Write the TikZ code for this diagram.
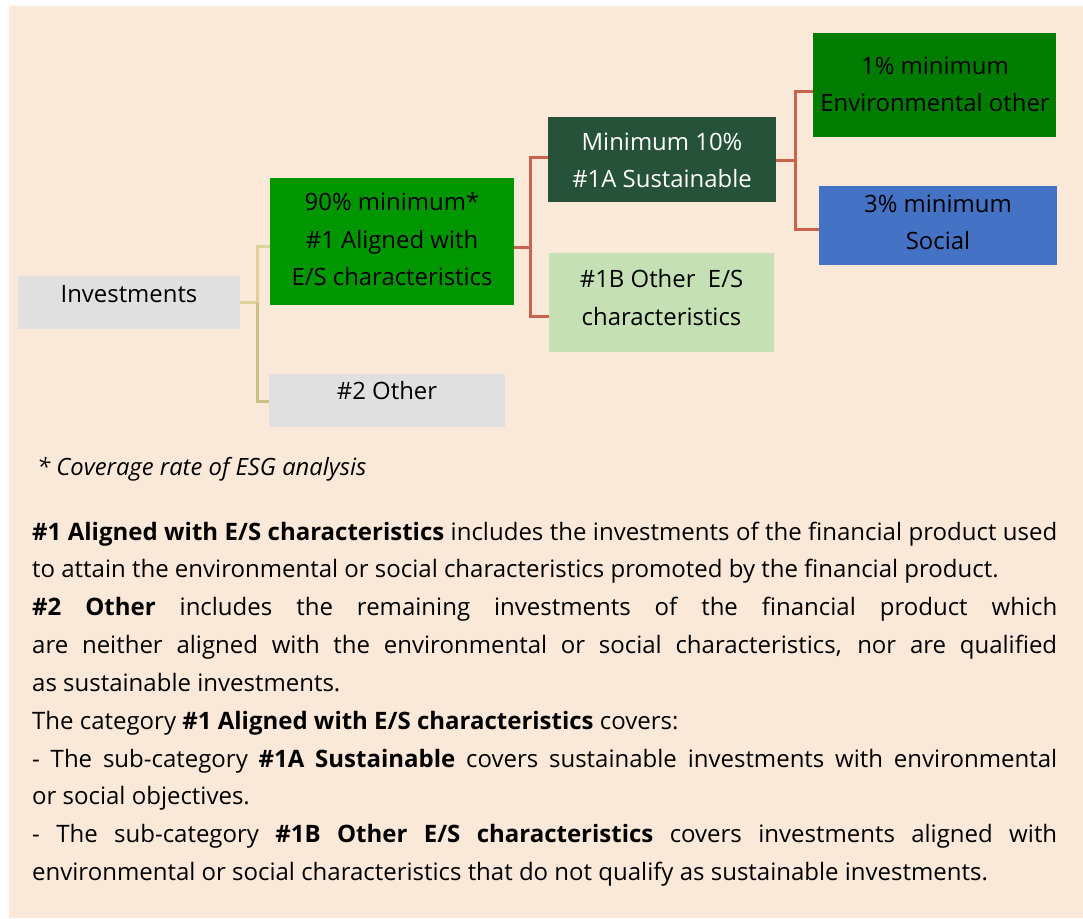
\documentclass[tikz,border=0pt]{standalone}
\usepackage{fontspec}
\setmainfont{Open Sans}
\usetikzlibrary{calc}
\definecolor{bg}{HTML}{FAE8D8}
\definecolor{greybox}{HTML}{E0E0E0}
\definecolor{green1}{HTML}{009600}
\definecolor{darkgreen}{HTML}{27523A}
\definecolor{envgreen}{HTML}{007D00}
\definecolor{socblue}{HTML}{4472C4}
\definecolor{lightgreen}{HTML}{C5E0B4}
\definecolor{tanhi}{HTML}{DDD398}
\definecolor{tanlo}{HTML}{CDC085}
\definecolor{redline}{HTML}{C9634B}
\begin{document}
\begin{tikzpicture}[x=1pt,y=-1pt,
  boxst/.style={rectangle, draw=none, inner sep=0pt, outer sep=0pt},
  lbl/.style={align=center, inner sep=0pt, font=\fontsize{23.9}{37.5}\selectfont},
  conn/.style={line width=3pt}]
\useasboundingbox (0,0) rectangle (1083,918);
\fill[bg] (9,6) rectangle (1083,918);
% boxes
\node[boxst, fill=greybox, minimum width=222pt, minimum height=53pt] (inv) at (129,302.5) {};
\node[boxst, fill=green1, minimum width=244pt, minimum height=127pt] (a1) at (392,241.5) {};
\node[boxst, fill=greybox, minimum width=236pt, minimum height=53pt] (o2) at (387,400.5) {};
\node[boxst, fill=darkgreen, minimum width=228pt, minimum height=85pt] (s1a) at (662,159.5) {};
\node[boxst, fill=lightgreen, minimum width=225pt, minimum height=99pt] (s1b) at (661.5,302.5) {};
\node[boxst, fill=envgreen, minimum width=243pt, minimum height=104pt] (env) at (934.5,85) {};
\node[boxst, fill=socblue, minimum width=238pt, minimum height=79pt] (soc) at (938,225.5) {};
% labels
\node[lbl] (invt) at (129,294) {Investments};
\node[lbl] (a1t) at (392,239.5) {90\% minimum*\\\#1 Aligned with\\E/S characteristics};
\node[lbl] (o2t) at (387,391) {\#2 Other};
\node[lbl, text=white] (s1at) at (662,160.5) {Minimum 10\%\\\#1A Sustainable};
\node[lbl] (s1bt) at (661.5,297.5) {\#1B Other~ E/S\\characteristics};
\node[lbl] (envt) at (935,84.5) {1\% minimum\\Environmental other};
\node[lbl] (soct) at (938,222.5) {3\% minimum\\Social};
% connector anchor points
\coordinate (j1) at (257,0);
\coordinate (j2) at (530,0);
\coordinate (j3) at (795,0);
\coordinate (a1w) at ([yshift=-4.5pt]a1.west);
\coordinate (a1e) at ([yshift=-5.5pt]a1.east);
\coordinate (o2w) at ([yshift=-0.5pt]o2.west);
\coordinate (s1aw) at ([yshift=2.5pt]s1a.west);
\coordinate (s1ae) at ([yshift=-0.5pt]s1a.east);
\coordinate (s1bw) at ([yshift=-14pt]s1b.west);
\coordinate (envw) at ([yshift=-6pt]env.west);
\coordinate (socw) at ([yshift=-3.5pt]soc.west);
% connectors
\draw[conn, tanhi] (inv.east) -- (j1 |- inv.east) |- (a1w);
\draw[conn, tanlo] (j1 |- inv.east) |- (o2w);
\draw[conn, redline] (s1aw) -| (j2 |- s1aw) |- (s1bw);
\draw[conn, redline] (a1e) -- (j2 |- a1e);
\draw[conn, redline] (envw) -| (j3 |- envw) |- (socw);
\draw[conn, redline] (s1ae) -- (j3 |- s1ae);
% footnote
\node[anchor=base west, inner sep=0pt, font=\fontsize{23.8}{37.5}\selectfont\itshape] (fn) at (37,475) {* Coverage rate of ESG analysis};
% body text
\node[anchor=base west, inner sep=0pt, font=\fontsize{24}{37.85}\selectfont] (body) at (32,540) {\parbox[t]{1025pt}{\tolerance=10000\emergencystretch=0pt\parindent=0pt
\textbf{\#1 Aligned with E/S characteristics} includes the investments of the financial product used\linebreak
to attain the environmental or social characteristics promoted by the financial product.\par
\textbf{\#2 Other} includes the remaining investments of the financial product which\linebreak
are neither aligned with the environmental or social characteristics, nor are qualified\linebreak
as sustainable investments.\par
The category \textbf{\#1 Aligned with E/S characteristics} covers:\par
- The sub-category \textbf{\#1A Sustainable} covers sustainable investments with environmental\linebreak
or social objectives.\par
- The sub-category \textbf{\#1B Other E/S characteristics} covers investments aligned with\linebreak
environmental or social characteristics that do not qualify as sustainable investments.}};
\end{tikzpicture}
\end{document}
